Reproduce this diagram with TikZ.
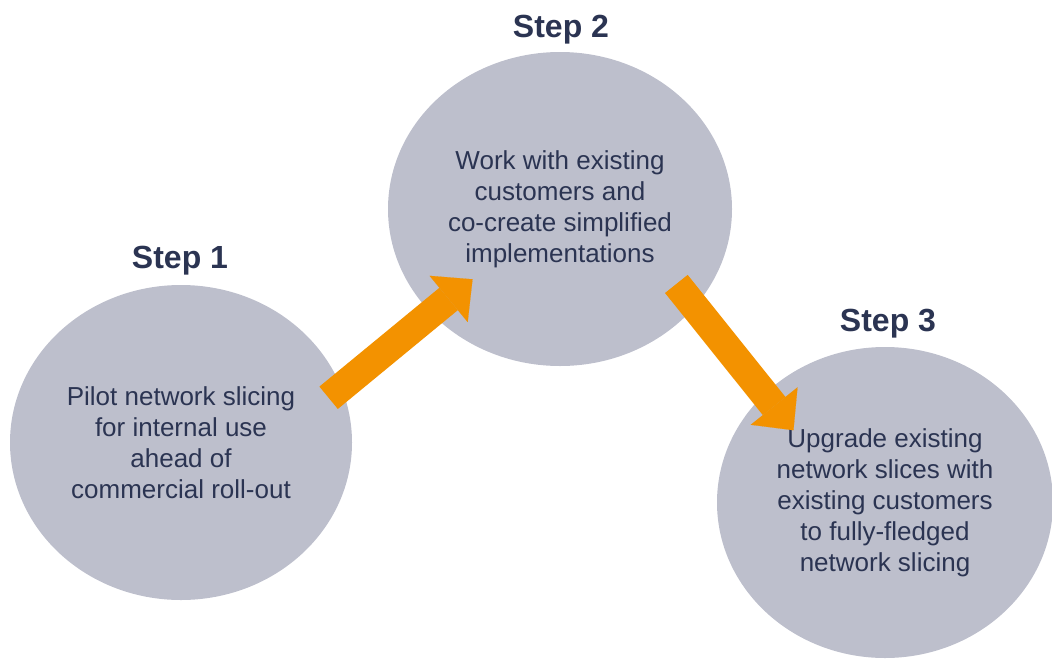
\documentclass[tikz,border=0pt]{standalone}
\usepackage{fontspec}
\setmainfont{Liberation Sans}
\usetikzlibrary{arrows.meta,shapes.geometric}
\definecolor{slate}{HTML}{BDBFCC}
\definecolor{ink}{HTML}{2B3452}
\definecolor{amber}{HTML}{F39200}

\begin{document}
\begin{tikzpicture}[x=1pt,y=-1pt,
	stepblob/.style={ellipse,fill=slate,inner sep=0pt,align=center,text=ink,font=\fontsize{26}{31}\selectfont},
	steptitle/.style={anchor=base,text=ink,font=\fontsize{32}{38}\selectfont\bfseries},
	flow/.style={amber,line width=29pt,-{Triangle[length=31pt,width=60pt,line width=0.1pt,color=amber,fill=amber]}}]
				\useasboundingbox (0,0) rectangle (1052,659);
				\node[stepblob,minimum width=342pt,minimum height=315pt] (s1) at (181,442.5)
					{Pilot network slicing\\for internal use\\ahead of\\commercial roll-out};
				\node[stepblob,minimum width=344pt,minimum height=314pt] (s2) at (560,209)
					{Work with existing\\customers and\\co-create simplified\\implementations};
				\node[stepblob,minimum width=336pt,minimum height=311pt] (s3) at (885,502.5)
					{Upgrade existing\\network slices with\\existing customers\\to fully-fledged\\network slicing};
				\node[steptitle] (t1) at (180,268) {Step 1};
				\node[steptitle] (t2) at (561,37) {Step 2};
				\node[steptitle] (t3) at (888,331) {Step 3};
				\draw[flow,shorten <=-16.5pt,shorten >=-53.6pt] (s1.19.5) -- (s2.219.8);
				\draw[flow,shorten <=-29.4pt,shorten >=-46.5pt] (s2.324) -- (s3.138.6);
			\end{tikzpicture}
\end{document}
